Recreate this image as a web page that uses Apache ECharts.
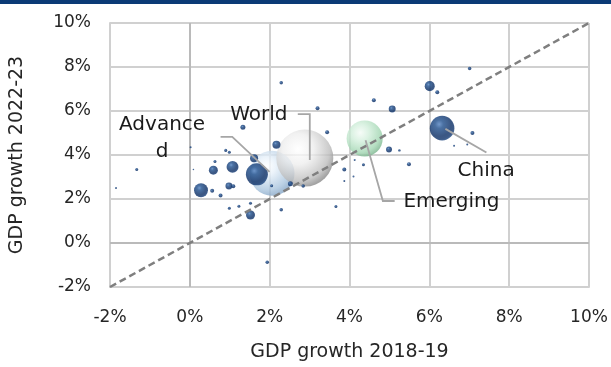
<!DOCTYPE html>
<html>
<head>
<meta charset="utf-8">
<script src="https://cdn.jsdelivr.net/npm/echarts@6/dist/echarts.min.js"></script>
<style>
  html, body { margin: 0; padding: 0; background: #ffffff; }
  #chart { width: 611px; height: 367px; }
</style>
</head>
<body>
<div id="chart"></div>
<script>
// Axis ticks (percent)
const tickMin = -2;
const tickMax = 10;
const tickStep = 2;

// Individual economies: growth 2018-19, growth 2022-23, share of world GDP (bubble weight)
const countryGrowth1819 = [1.33, 0.02, 0.90, 0.99, 0.63, -1.33, 0.09, 0.59, 1.07, -1.85, 0.28, 0.56, 0.77, 0.98, 1.09,
  1.68, 2.17, 1.61, 0.99, 1.23, 1.52, 1.52, 2.29, 3.20, 3.44, 3.66, 2.29, 4.61, 5.07, 6.01, 6.20, 4.99, 5.25, 5.49,
  6.62, 4.13, 4.35, 3.87, 3.87, 4.10, 2.84, 2.52, 7.01, 7.08, 6.95, 1.94, 2.05];
const countryGrowth2223 = [5.26, 4.35, 4.21, 4.12, 3.70, 3.34, 3.34, 3.31, 3.46, 2.50, 2.40, 2.37, 2.16, 2.59, 2.58,
  3.12, 4.47, 3.85, 1.58, 1.67, 1.81, 1.27, 1.51, 6.13, 5.03, 1.66, 7.28, 6.49, 6.09, 7.13, 6.85, 4.25, 4.21, 3.58,
  4.42, 3.77, 3.56, 3.34, 2.82, 3.02, 2.59, 2.69, 7.93, 5.00, 4.48, -0.88, 2.60];
const countryWeight = [0.77, 0.12, 0.28, 0.28, 0.28, 0.28, 0.07, 2.5, 4.4, 0.12, 6.0, 0.49, 0.49, 1.5, 0.49,
  14.9, 2.0, 2.0, 0.28, 0.28, 0.28, 2.5, 0.38, 0.49, 0.49, 0.28, 0.38, 0.49, 1.5, 3.1, 0.49, 1.1, 0.19, 0.49,
  0.12, 0.12, 0.28, 0.49, 0.12, 0.12, 0.38, 0.77, 0.38, 0.49, 0.12, 0.38, 0.28];

// Aggregates
const groupNames = ['Advanced', 'World', 'Emerging', 'China'];
const groupLabels = ['Advance\nd', 'World', 'Emerging', 'China'];
const groupGrowth1819 = [2.06, 2.88, 4.38, 6.32];
const groupGrowth2223 = [3.17, 3.86, 4.75, 5.22];
const groupWeight = [62, 100, 40, 18.6];

// Equal-growth reference line
const diagonal = [[tickMin, tickMin], [tickMax, tickMax]];

const FONT = 'DejaVu Sans';
const MAX_DIAMETER = 57;
const diameter = w => MAX_DIAMETER * Math.sqrt(w / 100);

function sphere(stops) {
  return {
    type: 'radial', x: 0.38, y: 0.34, r: 0.68,
    colorStops: stops.map(c => ({ offset: c[0], color: c[1] }))
  };
}
const navySphere = sphere([[0, '#4f7fbe'], [0.25, '#1d4d8b'], [0.72, '#0a2d64'], [0.9, '#0d3169'], [1, '#1a437d']]);
const groupColors = [
  sphere([[0, '#ffffff'], [0.3, '#e6f0f9'], [0.78, '#aac5de'], [1, '#86a6c6']]),
  sphere([[0, '#ffffff'], [0.4, '#eeeeee'], [0.82, '#bdbdbd'], [1, '#8c8c8c']]),
  sphere([[0, '#f4fbf6'], [0.35, '#d3efdc'], [0.8, '#a2d6b2'], [1, '#7cb68f']]),
  navySphere
];

const countryData = countryGrowth1819.map((x, i) => [x, countryGrowth2223[i], countryWeight[i]]);
const groupData = groupNames.map((n, i) => ({
  name: n,
  value: [groupGrowth1819[i], groupGrowth2223[i], groupWeight[i]],
  itemStyle: { color: groupColors[i] }
}));

const chart = echarts.init(document.getElementById('chart'));

const gridColor = '#d0d0d0';
const zeroColor = '#bababa';
const textColor = '#262626';
const axisLabelStyle = { color: textColor, fontFamily: FONT, fontSize: 17 };
const axisNameStyle = { color: textColor, fontFamily: FONT, fontSize: 19 };

function valueAxis(labelMargin, name, nameGap) {
  return {
    type: 'value', min: tickMin, max: tickMax, interval: tickStep,
    name, nameLocation: 'middle', nameGap, nameTextStyle: axisNameStyle,
    axisLine: { show: true, onZero: false, lineStyle: { color: gridColor, width: 2 } },
    axisTick: { show: false },
    splitLine: { show: true, lineStyle: { color: gridColor, width: 2 } },
    axisLabel: Object.assign({ formatter: '{value}%', margin: labelMargin }, axisLabelStyle)
  };
}

chart.setOption({
  animation: false,
  grid: { left: 101, right: 22, top: 23, bottom: 68 },
  xAxis: valueAxis(22, 'GDP growth 2018-19', 56),
  yAxis: valueAxis(19, 'GDP growth 2022-23', 83),
  series: [
    {
      name: 'Groups', type: 'scatter', z: 3,
      data: groupData.slice(0, 3),
      symbolSize: v => diameter(v[2]),
      markLine: {
        // zero lines of both axes
        silent: true, symbol: 'none', label: { show: false },
        lineStyle: { color: zeroColor, width: 2, type: 'solid' },
        data: [{ xAxis: 0 }, { yAxis: 0 }],
        z: 1
      }
    },
    {
      name: 'Economies', type: 'scatter', z: 4,
      data: countryData,
      symbolSize: v => diameter(v[2]),
      itemStyle: { color: navySphere }
    },
    {
      name: 'China', type: 'scatter', z: 5,
      data: groupData.slice(3),
      symbolSize: v => diameter(v[2])
    },
    {
      name: 'Equal growth', type: 'line', z: 6, silent: true,
      data: diagonal, symbol: 'none',
      lineStyle: { color: '#7f7f7f', width: 2.5, type: [7, 4] }
    }
  ]
});

// Navy strip across the top
const graphics = [
  { type: 'rect', shape: { x: 0, y: 0, width: 611, height: 4 }, style: { fill: '#0b3a76' }, z: 10 }
];

// Label placement relative to each bubble centre (pixels) and leader polylines
const labelLayout = {
  Advanced: { text: [-110, -35], line: [[-51.5, -36.4], [-39.8, -36.4], [-2.5, -1.4]] },
  World:    { text: [-46, -43],  line: [[-7, -44], [5, -44], [5, 2]] },
  Emerging: { text: [86.7, 63.3], line: [[30, 62.5], [18.2, 62.5], [0.9, 1.8]] },
  China:    { text: [44, 42.7],  line: [[3.3, 0.7], [44.3, 24.4]] }
};

groupNames.forEach((n, i) => {
  const c = chart.convertToPixel({ gridIndex: 0 }, [groupGrowth1819[i], groupGrowth2223[i]]);
  const lay = labelLayout[n];
  graphics.push({
    type: 'polyline', z: 20, silent: true,
    shape: { points: lay.line.map(p => [c[0] + p[0], c[1] + p[1]]) },
    style: { stroke: '#a6a6a6', lineWidth: 1.8, fill: null }
  });
  graphics.push({
    type: 'text', z: 21, silent: true,
    x: c[0] + lay.text[0], y: c[1] + lay.text[1],
    style: {
      text: groupLabels[i], font: '20px "' + FONT + '"', fill: '#1a1a1a',
      textAlign: 'center', textVerticalAlign: 'middle', lineHeight: 27
    }
  });
});

chart.setOption({ graphic: graphics });
</script>
</body>
</html>
